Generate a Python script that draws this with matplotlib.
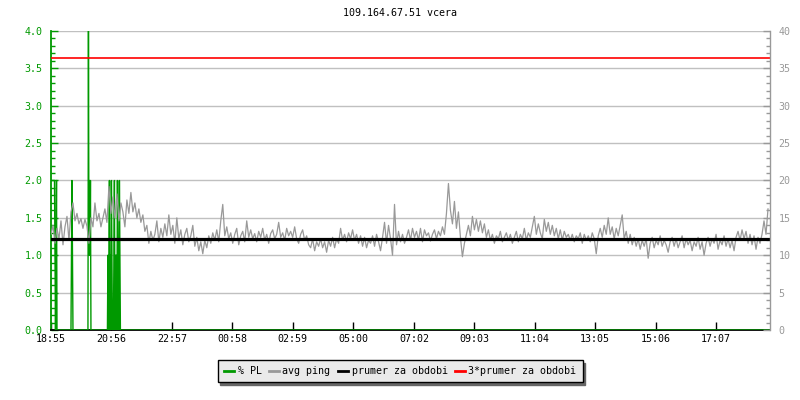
import matplotlib

matplotlib.use("Agg")
import matplotlib.pyplot as plt  # noqa: E402
from matplotlib.lines import Line2D  # noqa: E402
from matplotlib.ticker import FormatStrFormatter, MultipleLocator  # noqa: E402

TITLE = "109.164.67.51 vcera"
START = "18:55"
SPAN_MIN = 1440
TICK_LABELS = ["18:55", "20:56", "22:57", "00:58", "02:59", "05:00",
               "07:02", "09:03", "11:04", "13:05", "15:06", "17:07"]

# avg ping [ms], one sample every 4 minutes
PING_STEP = 4
avg_ping = [
    12.8, 14.0, 11.6, 13.6, 12.2, 14.6, 11.4, 13.8, 15.2, 12.0, 15.8, 17.0, 14.6, 15.6, 14.2, 14.9, 13.6, 14.8, 13.9, 11.6,
    15.0, 13.8, 17.0, 14.6, 15.6, 13.8, 15.0, 16.2, 14.4, 19.2, 15.6, 17.8, 15.0, 18.2, 14.6, 17.0, 15.8, 13.8, 17.4, 15.6,
    18.4, 15.8, 17.0, 15.0, 16.2, 14.4, 15.4, 13.2, 14.0, 11.6, 13.2, 12.0, 12.8, 14.6, 11.8, 13.6, 12.4, 14.2, 12.6, 15.4,
    12.8, 14.0, 11.6, 15.0, 12.2, 13.4, 11.4, 12.8, 13.6, 11.8, 12.6, 14.0, 11.2, 12.4, 10.6, 11.8, 10.2, 12.0, 11.0, 12.6,
    11.6, 13.0, 12.0, 13.4, 11.8, 14.6, 16.8, 12.6, 13.8, 12.2, 13.0, 11.6, 12.8, 13.6, 11.4, 12.6, 13.2, 11.8, 14.6, 12.4,
    13.4, 12.2, 12.9, 11.8, 13.2, 12.4, 13.6, 12.0, 12.8, 11.6, 12.9, 13.4, 12.2, 12.8, 14.4, 12.4, 13.0, 12.0, 13.6, 12.6,
    13.2, 12.4, 13.8, 12.2, 11.6, 12.8, 13.4, 12.0, 12.6, 11.4, 11.0, 12.2, 10.6, 11.8, 11.2, 12.2, 11.0, 11.8, 10.4, 12.0,
    11.2, 12.4, 11.0, 12.2, 11.6, 13.6, 12.0, 12.8, 11.8, 13.0, 12.2, 13.4, 12.0, 12.8, 11.6, 12.6, 11.2, 12.4, 11.0, 12.0,
    11.6, 12.6, 11.2, 12.8, 11.8, 10.6, 12.4, 14.4, 11.6, 14.0, 12.2, 10.0, 16.8, 11.4, 13.2, 11.8, 12.8, 11.6, 12.4, 13.4,
    12.0, 13.6, 12.4, 13.2, 12.0, 13.6, 11.8, 13.4, 12.6, 13.0, 11.9, 12.8, 13.4, 12.2, 13.2, 12.6, 13.8, 12.8, 15.6, 19.6,
    16.0, 14.2, 17.2, 13.6, 15.8, 12.4, 9.8, 11.6, 12.8, 14.0, 12.6, 15.2, 13.4, 14.8, 13.2, 14.6, 13.0, 14.2, 12.4, 13.4,
    12.0, 12.8, 11.6, 12.6, 12.2, 13.2, 11.8, 12.4, 13.0, 12.0, 12.8, 11.6, 12.4, 13.2, 11.8, 12.8, 12.2, 13.6, 12.0, 13.0,
    12.4, 13.8, 15.2, 12.8, 14.2, 13.0, 12.2, 14.8, 13.2, 14.4, 12.8, 14.0, 12.6, 13.6, 12.2, 13.4, 12.0, 13.2, 12.4, 12.8,
    12.0, 12.8, 11.8, 12.6, 12.2, 13.0, 11.6, 12.8, 12.0, 12.6, 11.8, 13.0, 12.2, 10.2, 12.6, 13.6, 12.4, 14.0, 12.8, 15.0,
    12.8, 13.8, 12.2, 13.6, 12.6, 14.0, 15.4, 12.2, 13.2, 11.6, 12.8, 11.4, 12.4, 11.2, 12.2, 10.8, 12.0, 11.2, 12.2, 9.6,
    11.6, 12.4, 11.0, 12.0, 11.4, 12.6, 11.2, 12.0, 11.4, 10.4, 11.8, 12.4, 11.2, 12.2, 11.0, 11.8, 12.6, 11.0, 12.2, 11.4,
    12.0, 10.6, 11.8, 11.2, 12.4, 10.8, 11.8, 10.0, 11.6, 12.4, 11.2, 12.2, 11.6, 12.8, 10.8, 12.0, 11.4, 12.6, 11.2, 12.2,
    11.0, 12.0, 10.6, 12.4, 13.2, 12.0, 13.4, 12.2, 13.2, 11.6, 12.8, 11.4, 12.6, 10.8, 12.4, 11.6, 12.8, 14.6, 12.8, 16.2,
]

# packet loss [%] samples (minute, value); zero in between
pl_minutes = [0, 7, 8, 9, 10, 11, 12,
              40, 41, 42, 43, 44,
              74, 75, 76, 77, 78, 79, 80,
              113, 114, 115, 116, 117, 118, 119, 120, 121, 122, 123,
              125, 126, 127, 128, 129, 130, 131, 132, 133, 134, 135,
              136, 137, 138, 139, 1439]
pl_values = [2, 2, 1, 0, 1, 2, 0,
             0, 1, 2, 1, 0,
             0, 4, 1, 2, 1, 2, 0,
             0, 1, 0, 1, 2, 0, 1, 0, 2, 1, 0,
             0, 1, 2, 0, 1, 0, 1, 0, 2, 1, 0,
             0, 2, 1, 0, 0]

MEAN_PING = 12.13

GREEN = "#009900"
GRAY = "#999999"
GRID = "#c0c0c0"
FONT = "DejaVu Sans Mono"
FS = 7.2

plt.rcParams["font.family"] = FONT
plt.rcParams["font.size"] = FS

fig = plt.figure(figsize=(8, 4), dpi=100)
ax = fig.add_axes([0.06375, 0.175, 0.89875, 0.7475])
ax2 = ax.twinx()

ping_t = [i * PING_STEP for i in range(len(avg_ping))]
ax.plot(pl_minutes, pl_values, color=GREEN, lw=1.0, zorder=3)
ax2.plot(ping_t, avg_ping, color=GRAY, lw=0.9)
ax2.axhline(MEAN_PING, color="black", lw=2.3)
ax2.axhline(3 * MEAN_PING, color="red", lw=1.2)

ax.set_xlim(0, SPAN_MIN)
ax.set_ylim(0, 4)
ax2.set_ylim(0, 40)

# tick positions from the clock labels
h0, m0 = map(int, START.split(":"))
tick_pos = []
for lab in TICK_LABELS:
    h, m = map(int, lab.split(":"))
    tick_pos.append(((h * 60 + m) - (h0 * 60 + m0)) % 1440)
ax.set_xticks(tick_pos)
ax.set_xticklabels(TICK_LABELS)

ax.yaxis.set_major_locator(MultipleLocator(0.5))
ax.yaxis.set_minor_locator(MultipleLocator(0.1))
ax.yaxis.set_major_formatter(FormatStrFormatter("%.1f"))
ax2.yaxis.set_major_locator(MultipleLocator(5))
ax2.yaxis.set_minor_locator(MultipleLocator(1))

ax.grid(axis="y", color=GRID, lw=1.0)
ax.set_axisbelow(True)

ax.tick_params(axis="y", which="both", direction="in", colors=GREEN, labelsize=FS, pad=6)
ax.tick_params(axis="y", which="major", length=5, width=1)
ax.tick_params(axis="y", which="minor", length=3, width=1)
ax.tick_params(axis="x", direction="in", length=6, width=1, colors="black", labelsize=FS, pad=3)
ax2.tick_params(axis="y", which="both", direction="in", colors=GRAY, labelsize=FS, pad=6)
ax2.tick_params(axis="y", which="major", length=5, width=1)
ax2.tick_params(axis="y", which="minor", length=3, width=1)

for a in (ax, ax2):
    a.spines["top"].set_visible(False)
ax.spines["left"].set_color(GREEN)
ax.spines["left"].set_linewidth(1.3)
ax.spines["bottom"].set_color("black")
ax.spines["bottom"].set_linewidth(1.3)
ax2.spines["left"].set_visible(False)
ax2.spines["bottom"].set_visible(False)
ax2.spines["right"].set_color(GRAY)
ax2.spines["right"].set_linewidth(1.0)
ax.spines["right"].set_visible(False)

fig.text(0.5, 0.967, TITLE, ha="center", va="center", fontsize=FS)

handles = [
    Line2D([], [], color=GREEN, lw=2),
    Line2D([], [], color=GRAY, lw=2),
    Line2D([], [], color="black", lw=2),
    Line2D([], [], color="red", lw=2),
]
labels = ["% PL", "avg ping", "prumer za obdobi", "3*prumer za obdobi"]
leg = fig.legend(handles, labels, loc="center", bbox_to_anchor=(0.5, 0.0725), ncol=4,
                 frameon=True, fancybox=False, shadow={"color": "#666666", "alpha": 1},
                 handlelength=1.0, handletextpad=0.4, columnspacing=0.7,
                 borderpad=0.6, fontsize=FS)
leg.get_frame().set_facecolor("#eaeaea")
leg.get_frame().set_edgecolor("black")
leg.get_frame().set_linewidth(1.0)

fig.savefig("out.png", dpi=100)
plt.close(fig)
